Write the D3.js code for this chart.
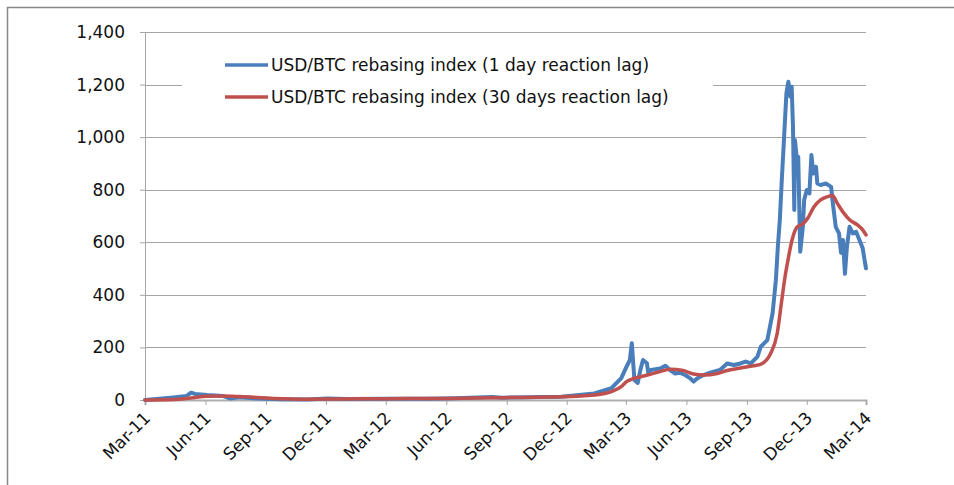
<!DOCTYPE html>
<html>
<head>
<meta charset="utf-8">
<script src="https://cdn.jsdelivr.net/npm/d3@7"></script>
<style>
  body { margin: 0; background: #fff; }
  text { font-family: "DejaVu Sans", sans-serif; }
</style>
</head>
<body>
<div id="chart"></div>
<script>
// values (rebasing index, 1 = Mar-11)
const lag1Dates = ["2011-03-01","2011-04-13","2011-05-03","2011-05-10","2011-05-16","2011-06-03","2011-06-28","2011-07-08","2011-07-23","2011-08-18","2011-09-23","2011-11-03","2011-12-03","2012-01-03","2012-03-01","2012-05-01","2012-06-15","2012-08-10","2012-08-25","2012-10-01","2012-11-23","2013-01-12","2013-02-07","2013-02-22","2013-03-02","2013-03-07","2013-03-10","2013-03-14","2013-03-19","2013-03-23","2013-03-27","2013-04-02","2013-04-04","2013-04-08","2013-04-22","2013-04-30","2013-05-07","2013-05-15","2013-05-22","2013-05-30","2013-06-07","2013-06-12","2013-06-17","2013-06-27","2013-07-07","2013-07-22","2013-08-02","2013-08-12","2013-08-22","2013-08-30","2013-09-07","2013-09-17","2013-09-22","2013-09-27","2013-10-02","2013-10-10","2013-10-12","2013-10-15","2013-10-18","2013-10-21","2013-10-24","2013-10-27","2013-10-31","2013-11-03","2013-11-06","2013-11-08","2013-11-10","2013-11-12","2013-11-13","2013-11-16","2013-11-18","2013-11-21","2013-11-25","2013-11-27","2013-12-01","2013-12-05","2013-12-08","2013-12-11","2013-12-15","2013-12-17","2013-12-22","2013-12-30","2014-01-07","2014-01-09","2014-01-14","2014-01-19","2014-01-22","2014-01-25","2014-01-28","2014-01-31","2014-02-04","2014-02-09","2014-02-14","2014-02-19","2014-02-24","2014-02-26","2014-03-01"];
const lag1Values = [0,10,15,28,23,19,15,6,10,6,3,1.5,6,4,5,5,7,11,9,10,12,25,45,83,127,152,216,76,65,114,152,140,102,114,120,130,114,101,104,95,82,70,82,95,104,114,139,133,139,146,139,165,203,215,228,330,380,456,583,685,837,976,1167,1211,1154,1192,1040,723,989,913,925,564,659,761,799,786,932,862,887,824,818,824,811,761,659,634,560,609,480,583,659,634,640,609,577,545,501];

const lag30Dates = ["2011-03-01","2011-04-13","2011-05-10","2011-06-03","2011-06-28","2011-07-23","2011-09-12","2011-11-03","2011-12-20","2012-03-01","2012-06-01","2012-09-01","2012-11-23","2013-01-12","2013-02-07","2013-02-22","2013-03-02","2013-03-13","2013-04-03","2013-04-22","2013-05-07","2013-05-27","2013-06-12","2013-06-27","2013-07-18","2013-08-02","2013-08-22","2013-09-11","2013-09-22","2013-10-07","2013-10-17","2013-10-24","2013-10-29","2013-11-03","2013-11-06","2013-11-11","2013-11-17","2013-11-24","2013-12-02","2013-12-12","2013-12-22","2014-01-01","2014-01-09","2014-01-16","2014-01-26","2014-02-04","2014-02-16","2014-02-24","2014-03-01"];
const lag30Values = [0,2,8,14,15,13,6,3,4,5,6,9,12,19,32,51,70,82,95,108,117,112,99,95,101,112,122,130,136,177,253,380,470,540,580,630,660,668,690,735,761,773,778,750,712,686,666,647,628];

const tickDates = ["2011-03-01","2011-06-01","2011-09-01","2011-12-01","2012-03-01","2012-06-01","2012-09-01","2012-12-01","2013-03-01","2013-06-01","2013-09-01","2013-12-01","2014-03-01"];
const tickLabels = ["Mar-11","Jun-11","Sep-11","Dec-11","Mar-12","Jun-12","Sep-12","Dec-12","Mar-13","Jun-13","Sep-13","Dec-13","Mar-14"];
const yTicks = [0,200,400,600,800,1000,1200,1400];
const seriesNames = ["USD/BTC rebasing index (1 day reaction lag)","USD/BTC rebasing index (30 days reaction lag)"];
const seriesColors = ["#4a7ebb","#c0504d"];

function build_svg(width = 954, height = 485){
  const margin = ({top: 32, right: 88, bottom: 85, left: 145});
  const parse = d3.timeParse("%Y-%m-%d");
  const fontSize = 17;

  const dataset = [
    lag1Dates.map((d, i) => ({date: parse(d), value: lag1Values[i]})),
    lag30Dates.map((d, i) => ({date: parse(d), value: lag30Values[i]}))
  ];

  const svg = d3.select("#chart").append("svg")
    .attr("width", width)
    .attr("height", height);

  // outer frame (only left/top edges show)
  svg.append("rect").attr("x", 7.5).attr("y", 7.5).attr("width", 1000).attr("height", 600)
    .attr("fill", "none").attr("stroke", "#888").attr("stroke-width", 1.5);

  const x = d3.scaleTime()
    .domain([parse(tickDates[0]), parse(tickDates[tickDates.length - 1])])
    .range([margin.left, width - margin.right]);

  const y = d3.scaleLinear()
    .domain([0, 1400])
    .range([height - margin.bottom, margin.top]);

  // gridlines
  svg.append("g").selectAll("line")
    .data(yTicks.slice(1))
    .enter().append("line")
    .attr("x1", margin.left).attr("x2", width - margin.right)
    .attr("y1", d => Math.round(y(d)) + 0.5).attr("y2", d => Math.round(y(d)) + 0.5)
    .attr("stroke", "#a6a6a6").attr("stroke-width", 1);

  // y axis
  let yAxis = g => g
    .attr("transform", `translate(${margin.left},0)`)
    .call(d3.axisLeft(y).tickValues(yTicks).tickSize(5).tickPadding(15).tickFormat(d3.format(",")))
    .call(g => g.select(".domain").remove())
    .call(g => g.append("line").attr("x1", 0.5).attr("x2", 0.5)
      .attr("y1", y(1400)).attr("y2", y(0)).attr("stroke", "#a6a6a6"));

  const gy = svg.append("g").call(yAxis);
  gy.selectAll(".tick line").attr("stroke", "#a6a6a6");
  gy.selectAll(".tick text").attr("font-size", fontSize).attr("fill", "#111")
    .attr("font-family", "DejaVu Sans");

  // x axis
  let xAxis = g => g
    .attr("transform", `translate(0,${y(0)})`)
    .call(d3.axisBottom(x).tickValues(tickDates.map(parse)).tickSize(5).tickFormat((d, i) => tickLabels[i]));

  const gx = svg.append("g").call(xAxis);
  gx.select(".domain").attr("stroke", "#b0b0b0").attr("stroke-width", 2);
  gx.selectAll(".tick line").attr("stroke", "#a6a6a6");
  gx.selectAll(".tick text")
    .attr("font-size", fontSize).attr("fill", "#111").attr("font-family", "DejaVu Sans")
    .attr("text-anchor", "end")
    .attr("y", 0).attr("dy", 0)
    .attr("transform", "translate(6,19) rotate(-45)");

  // legend box (white, hides the gridline behind it)
  const legend = svg.append("g");
  legend.append("rect").attr("x", 182).attr("y", 48).attr("width", 531).attr("height", 64).attr("fill", "#fff");
  seriesNames.forEach((name, i) => {
    const ly = 65 + i * 32;
    legend.append("line").attr("x1", 225).attr("x2", 268).attr("y1", ly).attr("y2", ly)
      .attr("stroke", seriesColors[i]).attr("stroke-width", 3.5);
    legend.append("text").attr("x", 271).attr("y", ly).attr("dy", "0.35em")
      .attr("font-size", fontSize).attr("fill", "#111").text(name);
  });

  // curves
  const line = d3.line()
    .x(d => x(d.date))
    .y(d => y(d.value));

  svg.append("g").selectAll("path")
    .data(dataset)
    .enter()
    .append("path")
    .attr("d", (d, i) => i == 1 ? line.curve(d3.curveMonotoneX)(d) : line.curve(d3.curveLinear)(d))
    .attr("fill", "none")
    .attr("stroke", (d, i) => seriesColors[i])
    .attr("stroke-width", (d, i) => i == 0 ? 4 : 3.5)
    .attr("stroke-linejoin", "round")
    .attr("stroke-linecap", "round");

  return svg.node();
}

build_svg();
</script>
</body>
</html>
